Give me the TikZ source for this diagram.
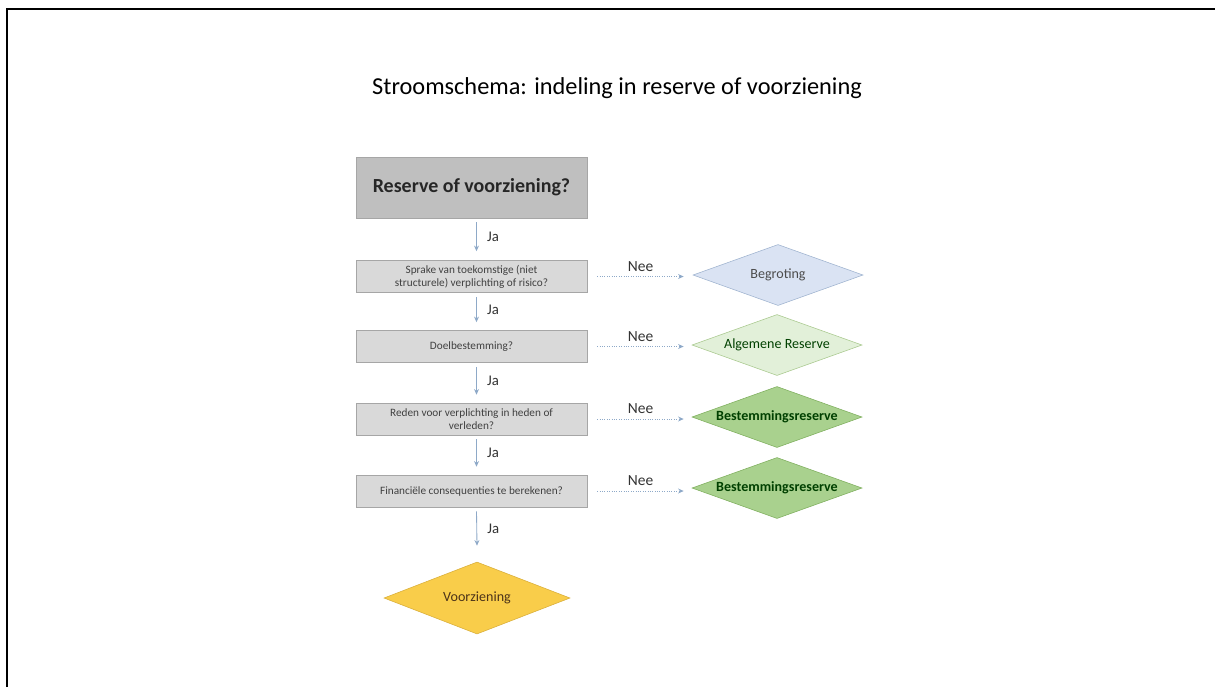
\documentclass[tikz,border=0pt]{standalone}
\usepackage{fontspec}
\setmainfont{Carlito}
\usetikzlibrary{shapes.geometric,arrows.meta,calc}
\definecolor{boxgray}{HTML}{D9D9D9}
\definecolor{topgray}{HTML}{BFBFBF}
\definecolor{boxline}{HTML}{A6A6A6}
\definecolor{flowblue}{HTML}{8EA9C8}
\definecolor{begrotingfill}{HTML}{DAE3F3}
\definecolor{begrotingline}{HTML}{9FB3CF}
\definecolor{algemeenfill}{HTML}{E2F0D9}
\definecolor{algemeenline}{HTML}{A9C98E}
\definecolor{bestemmingfill}{HTML}{A9D18E}
\definecolor{bestemmingline}{HTML}{7FAF5E}
\definecolor{voorzieningfill}{HTML}{F9CD4A}
\definecolor{voorzieningline}{HTML}{D9AE3A}
\tikzset{
  question/.style={draw=boxline, fill=boxgray, minimum width=5.775cm, minimum height=0.8cm,
    inner sep=0pt, align=center, text=black!75, font=\fontsize{8}{9.4}\selectfont},
  outcome/.style={diamond, aspect=2.8, inner sep=0pt, minimum width=4.25cm, minimum height=1.525cm,
    font=\fontsize{10}{12}\selectfont},
  flow/.style={draw=flowblue, line width=0.6pt, -{Stealth[length=4pt,width=3.5pt]}},
  noflow/.style={flow, line width=0.7pt, densely dotted},
  ja/.style={font=\fontsize{10.5}{12}\selectfont, text=black!80},
  nee/.style={font=\fontsize{11}{12}\selectfont, text=black!80},
}
\begin{document}
\begin{tikzpicture}[x=0.025cm, y=-0.025cm]
\useasboundingbox (0,0) rectangle (1215,687);
% frame
\draw[line width=2.1pt] (7,687) -- (7,9) -- (1215,9);
% title
\node (title) at (617,88) {\fontsize{17.3}{20}\selectfont Stroomschema: indeling in reserve of voorziening};
% questions
\node[draw=boxline, fill=topgray, minimum width=5.775cm, minimum height=1.525cm, inner sep=0pt,
  text=black!85, font=\fontsize{14.2}{16}\selectfont\bfseries] (start) at (471.5,187.5) {Reserve of voorziening?};
\node[question] (q1) at (471.5,276.5) {Sprake van toekomstige (niet\\structurele) verplichting of risico?};
\node[question] (q2) at (471.5,346.5) {Doelbestemming?};
\node[question] (q3) at (471.5,419) {Reden voor verplichting in heden of\\verleden?};
\node[question] (q4) at (471.5,491) {Financiële consequenties te berekenen?};
% outcomes
\node[outcome, draw=begrotingline, fill=begrotingfill, text=black!70] (begroting) at (778,275) {Begroting};
\node[outcome, draw=algemeenline, fill=algemeenfill, text=green!25!black] (algemeen) at (777,345) {Algemene Reserve};
\node[outcome, draw=bestemmingline, fill=bestemmingfill, text=green!25!black,
  font=\fontsize{10}{12}\selectfont\bfseries] (bestemming1) at (777,417) {Bestemmingsreserve};
\node[outcome, draw=bestemmingline, fill=bestemmingfill, text=green!25!black,
  font=\fontsize{10}{12}\selectfont\bfseries] (bestemming2) at (777,488) {Bestemmingsreserve};
\node[outcome, minimum width=4.65cm, minimum height=1.8cm, draw=voorzieningline, fill=voorzieningfill,
  text=black!60!brown] (voorziening) at (477,598) {Voorziening};
% ja arrows
\draw[flow] ($(start.south)+(5,4)$) -- node[ja, right=4pt] {Ja} ($(q1.north)+(5,-9)$);
\draw[flow] ($(q1.south)+(5,4)$) -- node[ja, right=4pt] {Ja} ($(q2.north)+(5,-8)$);
\draw[flow] ($(q2.south)+(5,4)$) -- node[ja, right=4pt] {Ja} ($(q3.north)+(5,-8)$);
\draw[flow] ($(q3.south)+(5,4)$) -- node[ja, right=4pt] {Ja} ($(q4.north)+(5,-8)$);
\draw[flow] ($(q4.south)+(5,4)$) -- node[ja, right=4pt] {Ja} ($(voorziening.north)+(0,-16)$);
% nee arrows
\draw[noflow] ($(q1.east)+(10,0)$) -- node[nee, above] {Nee} ($(q1.east -| begroting.west)+(-9,0)$);
\draw[noflow] ($(q2.east)+(10,0)$) -- node[nee, above] {Nee} ($(q2.east -| algemeen.west)+(-8,0)$);
\draw[noflow] ($(q3.east)+(10,0)$) -- node[nee, above] {Nee} ($(q3.east -| bestemming1.west)+(-8,0)$);
\draw[noflow] ($(q4.east)+(10,0)$) -- node[nee, above] {Nee} ($(q4.east -| bestemming2.west)+(-8,0)$);
\end{tikzpicture}
\end{document}
